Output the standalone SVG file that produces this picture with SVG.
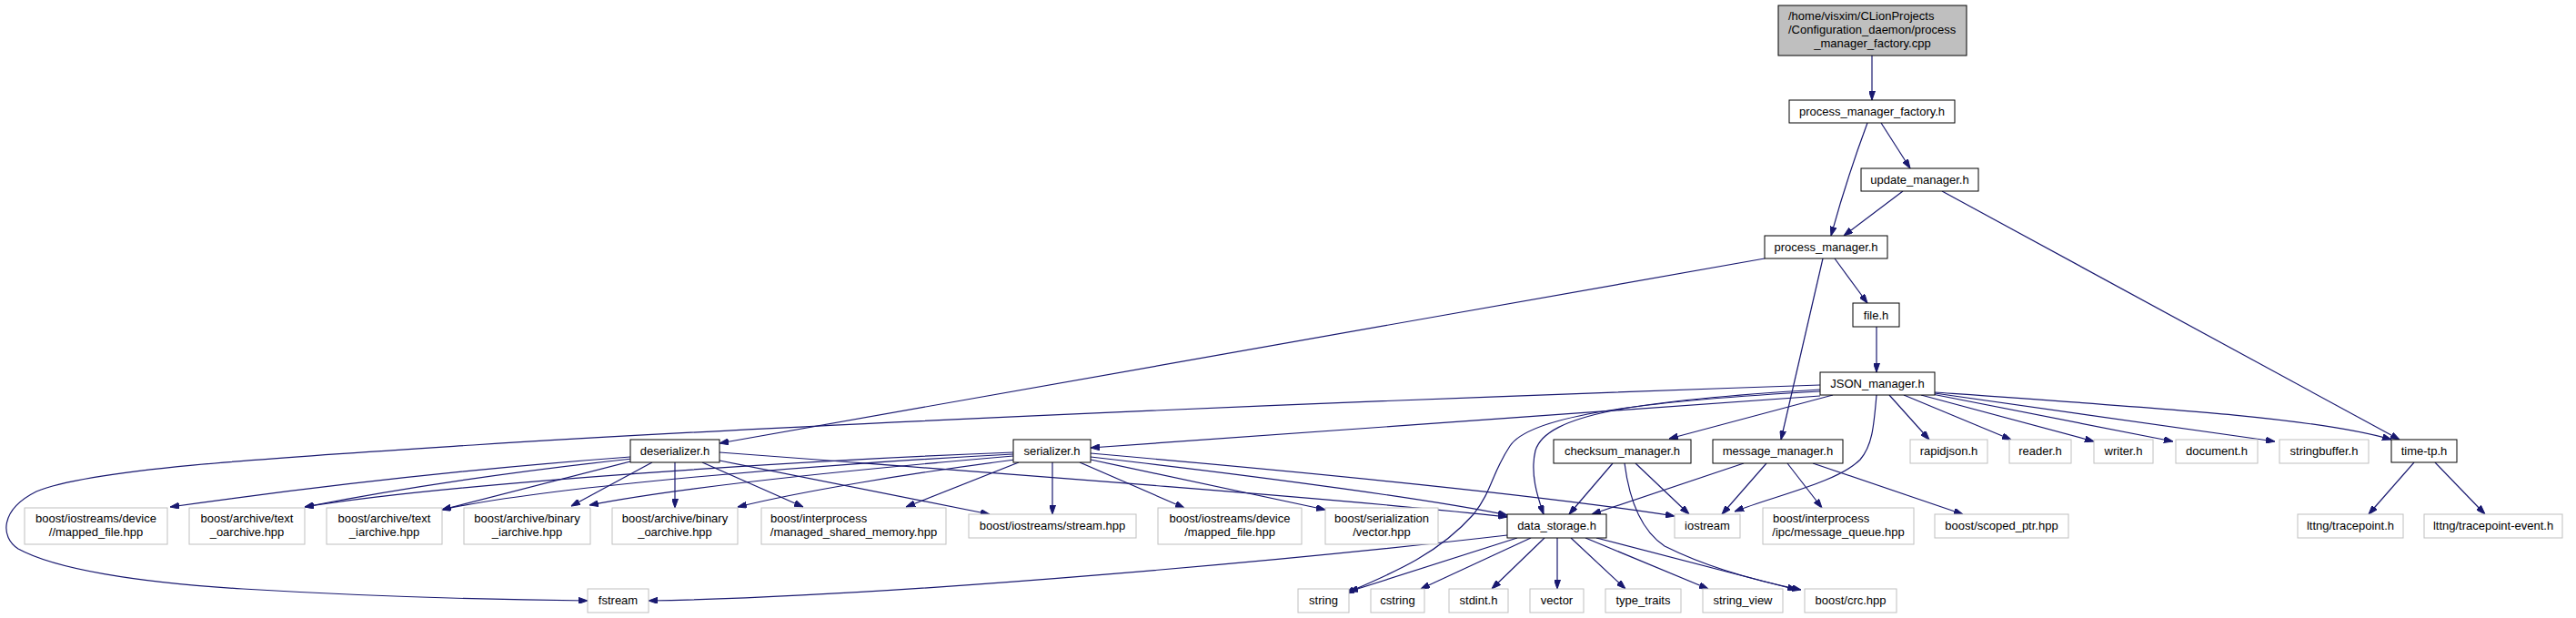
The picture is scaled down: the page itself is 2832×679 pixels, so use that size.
<svg xmlns="http://www.w3.org/2000/svg" width="2832" height="679" viewBox="0 0 2832 679">
<style>
.n rect{fill:#fff;stroke:#000;stroke-width:1}
.x rect{fill:#fff;stroke:#bfbfbf;stroke-width:1}
.r rect{fill:#bfbfbf;stroke:#000;stroke-width:1}
text{font-family:"Liberation Sans",Arial,sans-serif;font-size:13px;fill:#000;text-anchor:middle}
text.l{text-anchor:start}
#edges path{fill:none;stroke:#191970;stroke-width:1.2;marker-end:url(#a)}
</style>
<defs>
<marker id="a" viewBox="0 0 10 7" refX="10" refY="3.5" markerWidth="10" markerHeight="7" markerUnits="userSpaceOnUse" orient="auto">
<path d="M0,0 L10,3.5 L0,7 z" fill="#191970" stroke="#191970"/>
</marker>
</defs>
<rect width="2832" height="679" fill="#fff"/>
<g id="edges">
<path d="M2058,61 L2058,110"/>
<path d="M2068,135 L2100,185"/>
<path d="M2053,135 C2040,170 2025,215 2013,259"/>
<path d="M2092,210 L2027,259"/>
<path d="M2135,210 L2638,483"/>
<path d="M1940,284 L791,487"/>
<path d="M2017,284 L2053,333"/>
<path d="M2004,284 L1958,483"/>
<path d="M2063,359 L2063,409"/>
<path d="M2001,435 L1199,492"/>
<path d="M2001,423 C1500,440 900,465 520,489 C300,503 100,515 40,540 C0,560 0,590 20,603 C60,625 150,640 267,647 C400,655 550,659 646,660"/>
<path d="M2015,434 L1835,482"/>
<path d="M2001,428 C1800,440 1700,455 1688,495 C1682,520 1690,545 1697,565"/>
<path d="M2001,430 C1780,442 1680,460 1660,490 C1640,520 1640,540 1620,565 C1580,610 1530,630 1479,652"/>
<path d="M2063,434 C2060,470 2058,490 2045,505 C2020,530 1950,545 1907,562"/>
<path d="M2077,434 L2121,483"/>
<path d="M2093,434 L2211,483"/>
<path d="M2112,434 L2302,485"/>
<path d="M2124,433 L2389,485"/>
<path d="M2127,432 L2501,485"/>
<path d="M2127,431 C2400,450 2550,460 2629,483"/>
<path d="M2654,508 L2604,565"/>
<path d="M2677,508 L2732,565"/>
<path d="M1917,509 L1750,565"/>
<path d="M1942,509 L1893,565"/>
<path d="M1965,509 L2003,558"/>
<path d="M1993,509 L2158,565"/>
<path d="M1773,509 L1725,565"/>
<path d="M1798,509 L1857,565"/>
<path d="M1786,509 C1790,540 1800,580 1830,600 C1880,625 1940,640 1980,648"/>
<path d="M1657,588 C1450,612 1000,655 713,660"/>
<path d="M1668,591 L1483,650"/>
<path d="M1683,591 L1562,647"/>
<path d="M1698,591 L1640,647"/>
<path d="M1712,591 L1712,647"/>
<path d="M1727,591 L1787,647"/>
<path d="M1743,591 L1878,647"/>
<path d="M1755,591 L1975,648"/>
<path d="M693,502 Q450,520 187,557"/>
<path d="M695,504 Q500,525 335,557"/>
<path d="M697,506 L486,560"/>
<path d="M717,508 L628,556"/>
<path d="M742,508 L742,558"/>
<path d="M772,508 L883,557"/>
<path d="M791,506 L1088,565"/>
<path d="M791,497 C1100,520 1500,550 1657,568"/>
<path d="M1114,497 C900,505 500,530 335,557"/>
<path d="M1114,499 C900,510 600,535 486,560"/>
<path d="M1114,501 C950,515 750,535 648,555"/>
<path d="M1116,505 C1000,520 880,540 811,557"/>
<path d="M1120,508 L996,557"/>
<path d="M1157,508 L1157,565"/>
<path d="M1187,508 L1302,558"/>
<path d="M1199,505 L1457,560"/>
<path d="M1199,502 C1400,525 1580,550 1657,566"/>
<path d="M1199,498 C1450,520 1700,545 1841,567"/>
</g>
<g id="n_root" class="r"><rect x="1955" y="6" width="207" height="55"/><text class="l" x="1966" y="22">/home/visxim/CLionProjects</text><text class="l" x="1966" y="37">/Configuration_daemon/process</text><text x="2058.5" y="52">_manager_factory.cpp</text></g>
<g id="n_pmf" class="n"><rect x="1967" y="110" width="182" height="25"/><text x="2058" y="127">process_manager_factory.h</text></g>
<g id="n_update" class="n"><rect x="2046" y="185" width="129" height="25"/><text x="2110.5" y="202">update_manager.h</text></g>
<g id="n_pm" class="n"><rect x="1940" y="259" width="135" height="25"/><text x="2007.5" y="276">process_manager.h</text></g>
<g id="n_file" class="n"><rect x="2037" y="333" width="51" height="26"/><text x="2062.5" y="350.5">file.h</text></g>
<g id="n_json" class="n"><rect x="2001" y="409" width="126" height="25"/><text x="2064" y="426">JSON_manager.h</text></g>
<g id="n_deser" class="n"><rect x="693" y="483" width="98" height="25"/><text x="742" y="500">deserializer.h</text></g>
<g id="n_ser" class="n"><rect x="1114" y="483" width="85" height="25"/><text x="1156.5" y="500">serializer.h</text></g>
<g id="n_checksum" class="n"><rect x="1708" y="483" width="151" height="26"/><text x="1783.5" y="500">checksum_manager.h</text></g>
<g id="n_message" class="n"><rect x="1883" y="483" width="143" height="26"/><text x="1954.5" y="500">message_manager.h</text></g>
<g id="n_time" class="n"><rect x="2629" y="483" width="72" height="25"/><text x="2665" y="500">time-tp.h</text></g>
<g id="n_data" class="n"><rect x="1657" y="565" width="109" height="26"/><text x="1711.5" y="582">data_storage.h</text></g>
<g id="n_rapidjson" class="x"><rect x="2100" y="483" width="85" height="26"/><text x="2142.5" y="500">rapidjson.h</text></g>
<g id="n_reader" class="x"><rect x="2209" y="483" width="68" height="26"/><text x="2243" y="500">reader.h</text></g>
<g id="n_writer" class="x"><rect x="2302" y="483" width="65" height="26"/><text x="2334.5" y="500">writer.h</text></g>
<g id="n_document" class="x"><rect x="2392" y="483" width="90" height="26"/><text x="2437" y="500">document.h</text></g>
<g id="n_stringbuffer" class="x"><rect x="2506" y="483" width="98" height="26"/><text x="2555" y="500">stringbuffer.h</text></g>
<g id="n_tracepoint" class="x"><rect x="2526" y="565" width="116" height="26"/><text x="2584" y="582">lttng/tracepoint.h</text></g>
<g id="n_tpevent" class="x"><rect x="2665" y="565" width="152" height="26"/><text x="2741" y="582">lttng/tracepoint-event.h</text></g>
<g id="n_iostream" class="x"><rect x="1841" y="565" width="72" height="26"/><text x="1877" y="582">iostream</text></g>
<g id="n_ipc" class="x"><rect x="1938" y="558" width="166" height="40"/><text class="l" x="1949" y="573.5">boost/interprocess</text><text x="2021" y="589">/ipc/message_queue.hpp</text></g>
<g id="n_scoped" class="x"><rect x="2127" y="565" width="147" height="26"/><text x="2200.5" y="582">boost/scoped_ptr.hpp</text></g>
<g id="n_string" class="x"><rect x="1427" y="647" width="56" height="26"/><text x="1455" y="664">string</text></g>
<g id="n_cstring" class="x"><rect x="1507" y="647" width="59" height="26"/><text x="1536.5" y="664">cstring</text></g>
<g id="n_stdint" class="x"><rect x="1593" y="647" width="65" height="26"/><text x="1625.5" y="664">stdint.h</text></g>
<g id="n_vector" class="x"><rect x="1682" y="647" width="59" height="26"/><text x="1711.5" y="664">vector</text></g>
<g id="n_typetraits" class="x"><rect x="1765" y="647" width="83" height="26"/><text x="1806.5" y="664">type_traits</text></g>
<g id="n_stringview" class="x"><rect x="1872" y="647" width="88" height="26"/><text x="1916" y="664">string_view</text></g>
<g id="n_crc" class="x"><rect x="1984" y="647" width="101" height="26"/><text x="2034.5" y="664">boost/crc.hpp</text></g>
<g id="n_fstream" class="x"><rect x="646" y="647" width="67" height="26"/><text x="679.5" y="664">fstream</text></g>
<g id="n_devmap2" class="x"><rect x="27" y="558" width="157" height="40"/><text x="105.5" y="573.5">boost/iostreams/device</text><text x="105.5" y="589">//mapped_file.hpp</text></g>
<g id="n_textoa" class="x"><rect x="208" y="558" width="127" height="40"/><text x="271.5" y="573.5">boost/archive/text</text><text x="271.5" y="589">_oarchive.hpp</text></g>
<g id="n_textia" class="x"><rect x="359" y="558" width="127" height="40"/><text x="422.5" y="573.5">boost/archive/text</text><text x="422.5" y="589">_iarchive.hpp</text></g>
<g id="n_binia" class="x"><rect x="510" y="558" width="139" height="40"/><text x="579.5" y="573.5">boost/archive/binary</text><text x="579.5" y="589">_iarchive.hpp</text></g>
<g id="n_binoa" class="x"><rect x="673" y="558" width="138" height="40"/><text x="742" y="573.5">boost/archive/binary</text><text x="742" y="589">_oarchive.hpp</text></g>
<g id="n_shm" class="x"><rect x="837" y="558" width="203" height="40"/><text class="l" x="847" y="573.5">boost/interprocess</text><text x="938.5" y="589">/managed_shared_memory.hpp</text></g>
<g id="n_stream" class="x"><rect x="1065" y="565" width="184" height="26"/><text x="1157" y="582">boost/iostreams/stream.hpp</text></g>
<g id="n_devmap" class="x"><rect x="1273" y="558" width="158" height="40"/><text x="1352" y="573.5">boost/iostreams/device</text><text x="1352" y="589">/mapped_file.hpp</text></g>
<g id="n_servec" class="x"><rect x="1457" y="558" width="124" height="40"/><text x="1519" y="573.5">boost/serialization</text><text x="1519" y="589">/vector.hpp</text></g>
</svg>
